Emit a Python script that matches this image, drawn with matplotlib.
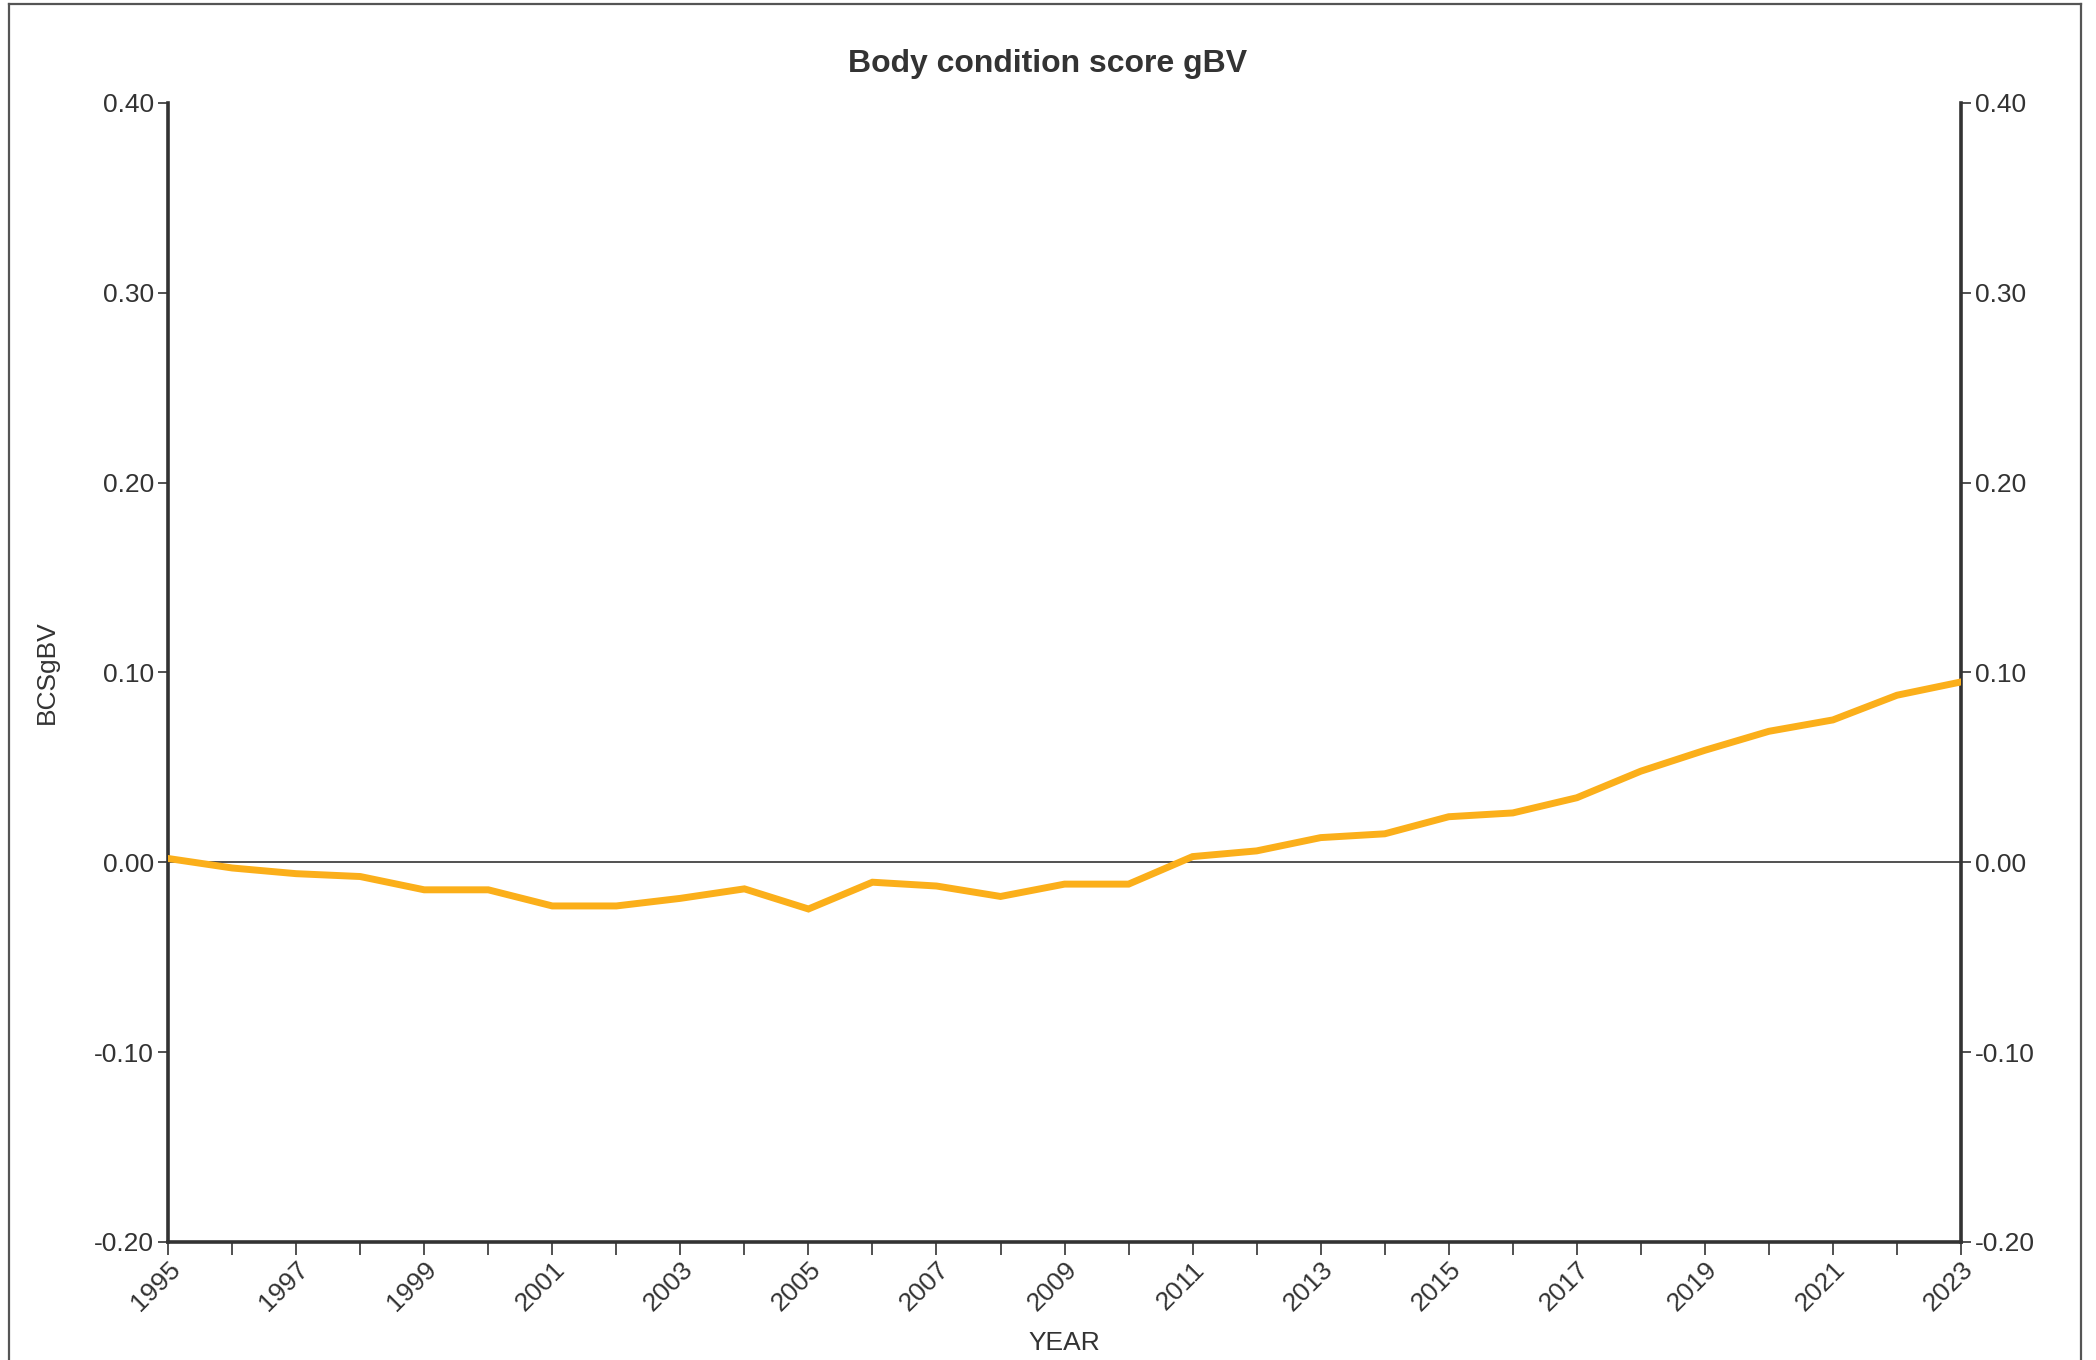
import numpy as np
import matplotlib
matplotlib.use("Agg")
import matplotlib.pyplot as plt
from matplotlib.ticker import MultipleLocator, FormatStrFormatter
from matplotlib.lines import Line2D

plt.rcParams['font.family'] = ['Liberation Sans', 'DejaVu Sans']

# data
years = list(range(1995, 2024))
bcs_gbv = [0.002, -0.003, -0.006, -0.0075, -0.0145, -0.0145, -0.023, -0.023,
           -0.019, -0.014, -0.0246, -0.0105, -0.0125, -0.018, -0.0115, -0.0115,
           0.003, 0.006, 0.013, 0.015, 0.024, 0.026, 0.034, 0.048,
           0.059, 0.069, 0.075, 0.088, 0.095]
major_years = list(range(1995, 2024, 2))

dark = '#333333'
line_col = '#FBAF1A'

fig = plt.figure(figsize=(20.96, 13.6), dpi=100)
ax = fig.add_axes([0.0802, 0.0868, 0.8554, 0.8375])

ax.plot(years, bcs_gbv, color=line_col, lw=5, solid_joinstyle='miter', zorder=3)
ax.axhline(0, color=dark, lw=1.2, zorder=2)

ax.set_xlim(1995, 2023)
ax.set_ylim(-0.2, 0.4)

# spines
for side in ['left', 'right', 'bottom']:
    ax.spines[side].set_color(dark)
    ax.spines[side].set_linewidth(2.6)
ax.spines['top'].set_visible(False)

# y ticks on both sides
ax.yaxis.set_major_locator(MultipleLocator(0.1))
ax.yaxis.set_major_formatter(FormatStrFormatter('%.2f'))
ax.tick_params(axis='y', which='major', left=True, right=True, labelleft=True,
               labelright=True, length=7, width=1.2, color=dark,
               labelsize=19, labelcolor=dark, pad=3, direction='out')

# x ticks: every year, labels every second year
ax.set_xticks(major_years)
ax.set_xticks(years, minor=True)
ax.set_xticklabels([str(y) for y in major_years], rotation=45, ha='right',
                   rotation_mode='anchor')
ax.tick_params(axis='x', which='both', length=9, width=1.2, color=dark,
               labelsize=19, labelcolor=dark, pad=2, direction='out')

ax.set_ylabel('BCSgBV', fontsize=19, color=dark)
ax.yaxis.set_label_coords(-0.061, 0.5)
ax.set_xlabel('YEAR', fontsize=19, color=dark)
ax.xaxis.set_label_coords(0.5, -0.078)

fig.text(0.5, 0.953, 'Body condition score gBV', ha='center', va='center',
         fontsize=23, fontweight='bold', color=dark)

# outer frame (bottom edge lies outside the image)
frame_kw = dict(color='#555555', lw=1.6, transform=fig.transFigure)
fig.add_artist(Line2D([0.0045, 0.0045], [-0.01, 0.997], **frame_kw))
fig.add_artist(Line2D([0.9928, 0.9928], [-0.01, 0.997], **frame_kw))
fig.add_artist(Line2D([0.0045, 0.9928], [0.997, 0.997], **frame_kw))

fig.savefig('out.png', dpi=100)
